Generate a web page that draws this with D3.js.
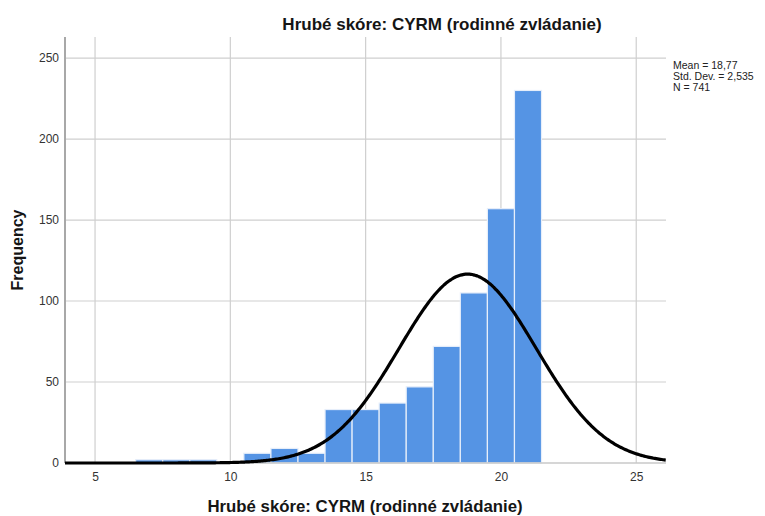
<!DOCTYPE html>
<html><head><meta charset="utf-8">
<script src="https://cdn.jsdelivr.net/npm/d3@7"></script>
<style>body{margin:0;background:#fff;font-family:Arial,"Liberation Sans",sans-serif;}</style>
</head><body>
<svg id="c" width="765" height="516"></svg>
<script>
const binCenters = [7, 8, 9, 10, 11, 12, 13, 14, 15, 16, 17, 18, 19, 20, 21];
const frequencies = [2, 2, 2, 0, 6, 9, 6, 33, 33, 37, 47, 72, 105, 157, 230];
const xTicks = [5, 10, 15, 20, 25];
const yTicks = [0, 50, 100, 150, 200, 250];
const statLines = ["Mean = 18,77", "Std. Dev. = 2,535", "N = 741"];
const mean = 18.77, sd = 2.535, n = 741, binWidth = 1;
const titleText = "Hrubé skóre: CYRM (rodinné zvládanie)";

const svg = d3.select("#c");
const L = 65, R = 666, T = 37, B = 463;
const x = d3.scaleLinear().domain([3.89, 26.1]).range([L, R]);
const y = d3.scaleLinear().domain([0, 263]).range([B, T]);

// grid
svg.append("g").selectAll("line").data(yTicks.filter(d => d > 0)).join("line")
  .attr("x1", L).attr("x2", R).attr("y1", d => y(d)).attr("y2", d => y(d))
  .attr("stroke", "#cfcfcf").attr("stroke-width", 1.2);
svg.append("g").selectAll("line").data(xTicks).join("line")
  .attr("x1", d => x(d)).attr("x2", d => x(d)).attr("y1", T).attr("y2", B)
  .attr("stroke", "#cfcfcf").attr("stroke-width", 1.2);

// bars
svg.append("g").selectAll("rect").data(binCenters.map((c, i) => ({c, f: frequencies[i]})).filter(d => d.f > 0)).join("rect")
  .attr("x", d => x(d.c - binWidth / 2))
  .attr("width", d => x(d.c + binWidth / 2) - x(d.c - binWidth / 2))
  .attr("y", d => y(d.f)).attr("height", d => B - y(d.f))
  .attr("fill", "#5594e4").attr("stroke", "#e6eefa").attr("stroke-width", 1.2);

// axes lines
svg.append("line").attr("x1", L).attr("x2", R).attr("y1", B).attr("y2", B).attr("stroke", "#c8c8c8").attr("stroke-width", 1.5);
svg.append("line").attr("x1", L).attr("x2", L).attr("y1", T).attr("y2", B).attr("stroke", "#a8a8a8").attr("stroke-width", 2);

// normal curve
const pts = d3.range(3.89, 26.11, 0.05).map(v => [v, n * binWidth * Math.exp(-0.5 * ((v - mean) / sd) ** 2) / (sd * Math.sqrt(2 * Math.PI))]);
svg.append("path").datum(pts)
  .attr("d", d3.line().x(d => x(d[0])).y(d => y(d[1])).curve(d3.curveBasis))
  .attr("fill", "none").attr("stroke", "#000").attr("stroke-width", 3.2);

// axes labels
const xAxis = d3.axisBottom(x).tickValues(xTicks).tickSize(0).tickPadding(9);
const gx = svg.append("g").attr("transform", `translate(0,${B})`).call(xAxis);
gx.select(".domain").remove();
gx.selectAll("text").attr("font-size", 12).attr("fill", "#333").attr("font-family", "Arial, Liberation Sans, sans-serif");
const yAxis = d3.axisLeft(y).tickValues(yTicks).tickSize(0).tickPadding(6);
const gy = svg.append("g").attr("transform", `translate(${L},0)`).call(yAxis);
gy.select(".domain").remove();
gy.selectAll("text").attr("font-size", 12).attr("fill", "#333").attr("font-family", "Arial, Liberation Sans, sans-serif");

// titles
svg.append("text").attr("x", 442).attr("y", 30).attr("text-anchor", "middle")
  .attr("font-size", 17).attr("font-weight", "bold").attr("fill", "#151515").text(titleText);
svg.append("text").attr("x", 365).attr("y", 512).attr("text-anchor", "middle")
  .attr("font-size", 16.8).attr("font-weight", "bold").attr("fill", "#151515").text(titleText);
svg.append("text").attr("transform", "translate(23,250) rotate(-90)").attr("text-anchor", "middle")
  .attr("font-size", 16).attr("font-weight", "bold").attr("fill", "#151515").text("Frequency");

// stats
svg.append("g").selectAll("text").data(statLines).join("text")
  .attr("x", 673).attr("y", (d, i) => 69 + i * 11)
  .attr("font-size", 10.5).attr("fill", "#222").text(d => d);
</script>
</body></html>
